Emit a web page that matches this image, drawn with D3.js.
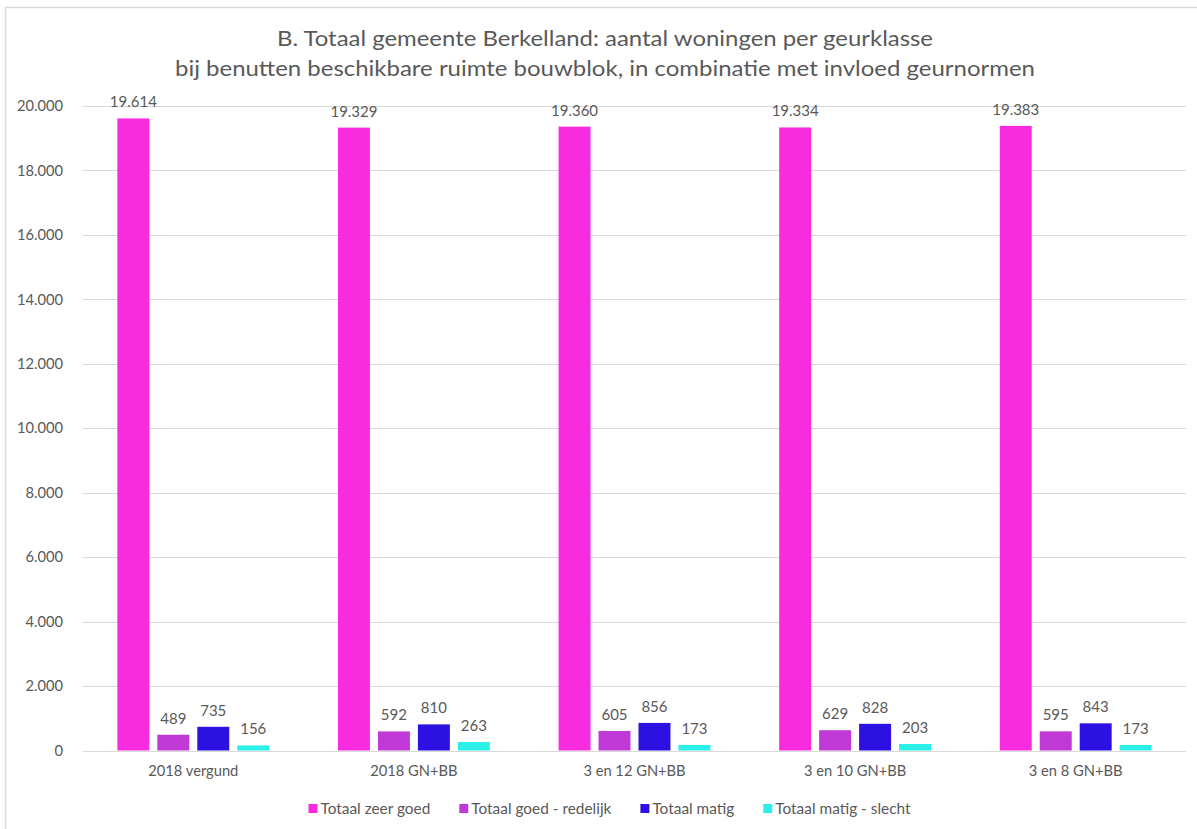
<!DOCTYPE html>
<html>
<head>
<meta charset="utf-8">
<script src="https://cdn.jsdelivr.net/npm/d3@7"></script>
<style>
  html, body { margin: 0; padding: 0; background: #ffffff; }
  svg { display: block; }
  text { font-family: Lato, "Open Sans", "Liberation Sans", sans-serif; fill: #595959; }
</style>
</head>
<body>
<svg id="chart" width="1197" height="829"></svg>
<script>
// ---- Data ----
const titleLines = [
  "B. Totaal gemeente Berkelland: aantal woningen per geurklasse",
  "bij benutten beschikbare ruimte bouwblok, in combinatie met invloed geurnormen"
];
const categories = ["2018 vergund", "2018 GN+BB", "3 en 12 GN+BB", "3 en 10 GN+BB", "3 en 8 GN+BB"];
const seriesNames = ["Totaal zeer goed", "Totaal goed - redelijk", "Totaal matig", "Totaal matig - slecht"];
const zeerGoed = [19614, 19329, 19360, 19334, 19383];
const goedRedelijk = [489, 592, 605, 629, 595];
const matig = [735, 810, 856, 828, 843];
const matigSlecht = [156, 263, 173, 203, 173];
const yTicks = [0, 2000, 4000, 6000, 8000, 10000, 12000, 14000, 16000, 18000, 20000];
const colors = ["#F82CDE", "#C038D6", "#2D10E2", "#2BF0E8"];

const seriesValues = [zeerGoed, goedRedelijk, matig, matigSlecht];

// ---- Layout ----
const svg = d3.select("#chart");
const W = 1197, H = 829;
const plot = { left: 83, right: 1186, top: 106, bottom: 750.5 };

const nl = d3.formatLocale({ decimal: ",", thousands: ".", grouping: [3], currency: ["€", ""] });
const fmt = nl.format(",d");

// Outer chart border
svg.append("rect")
  .attr("x", 5.5).attr("y", 7.5)
  .attr("width", W + 10).attr("height", H + 10)
  .attr("fill", "none").attr("stroke", "#d9d9d9").attr("stroke-width", 1.5);

// Scales
const y = d3.scaleLinear().domain([0, 20000]).range([plot.bottom, plot.top]);
const x0 = d3.scaleBand().domain(categories).range([plot.left, plot.right]).padding(0);
const x1 = d3.scaleBand().domain(seriesNames).range([0, x0.bandwidth()])
  .paddingInner(0.2).paddingOuter(0.86);

// Gridlines
svg.append("g").selectAll("line").data(yTicks).join("line")
  .attr("x1", plot.left).attr("x2", plot.right)
  .attr("y1", d => Math.round(y(d)) + 0.5).attr("y2", d => Math.round(y(d)) + 0.5)
  .attr("stroke", "#d9d9d9").attr("stroke-width", 1);

// Y axis labels
const yAxis = d3.axisLeft(y).tickValues(yTicks).tickFormat(fmt).tickSize(0).tickPadding(0);
const yg = svg.append("g").attr("transform", `translate(${plot.left - 20},0)`).call(yAxis);
yg.select(".domain").remove();
yg.selectAll("text").attr("font-size", "14.7px").attr("fill", "#595959")
  .style("font-family", "Lato, 'Open Sans', sans-serif");

// Title
titleLines.forEach((t, i) => {
  svg.append("text")
    .attr("x", 605).attr("y", i === 0 ? 46 : 76)
    .attr("text-anchor", "middle")
    .attr("font-size", "21px")
    .attr("textLength", i === 0 ? 656 : 860)
    .attr("lengthAdjust", "spacingAndGlyphs")
    .text(t);
});

// Bars
const rows = categories.map((c, ci) => ({ cat: c, vals: seriesNames.map((s, si) => ({ s, si, v: seriesValues[si][ci] })) }));
const groups = svg.append("g").selectAll("g").data(rows).join("g")
  .attr("transform", d => `translate(${x0(d.cat)},0)`);

groups.selectAll("rect").data(d => d.vals).join("rect")
  .attr("x", d => x1(d.s))
  .attr("width", x1.bandwidth())
  .attr("y", d => y(d.v))
  .attr("height", d => y(0) - y(d.v))
  .attr("fill", d => colors[d.si]);

groups.selectAll("text.val").data(d => d.vals).join("text")
  .attr("class", "val")
  .attr("x", d => x1(d.s) + x1.bandwidth() / 2)
  .attr("y", d => y(d.v) - 11)
  .attr("text-anchor", "middle")
  .attr("font-size", "15px")
  .text(d => fmt(d.v));

// X axis labels
const xAxis = d3.axisBottom(x0).tickSize(0).tickPadding(0);
const xg = svg.append("g").attr("transform", `translate(0,${plot.bottom})`).call(xAxis);
xg.select(".domain").remove();
xg.selectAll("text").attr("font-size", "14.7px").attr("fill", "#595959")
  .attr("dy", null).attr("y", 25.5)
  .style("font-family", "Lato, 'Open Sans', sans-serif");

// Legend
const legend = svg.append("g");
const items = legend.selectAll("g").data(seriesNames).join("g");
items.append("rect").attr("width", 9).attr("height", 9).attr("y", 804)
  .attr("fill", (d, i) => colors[i]);
items.append("text").attr("y", 814).attr("font-size", "15.4px").attr("x", 12).text(d => d);
const widths = [];
items.each(function () { widths.push(d3.select(this).select("text").node().getComputedTextLength()); });
const itemGap = 29;
const totalW = widths.reduce((a, w) => a + 12 + w, 0) + itemGap * (widths.length - 1);
let cx = 609.5 - totalW / 2;
items.attr("transform", (d, i) => {
  const t = `translate(${cx},0)`;
  cx += 12 + widths[i] + itemGap;
  return t;
});
</script>
</body>
</html>
